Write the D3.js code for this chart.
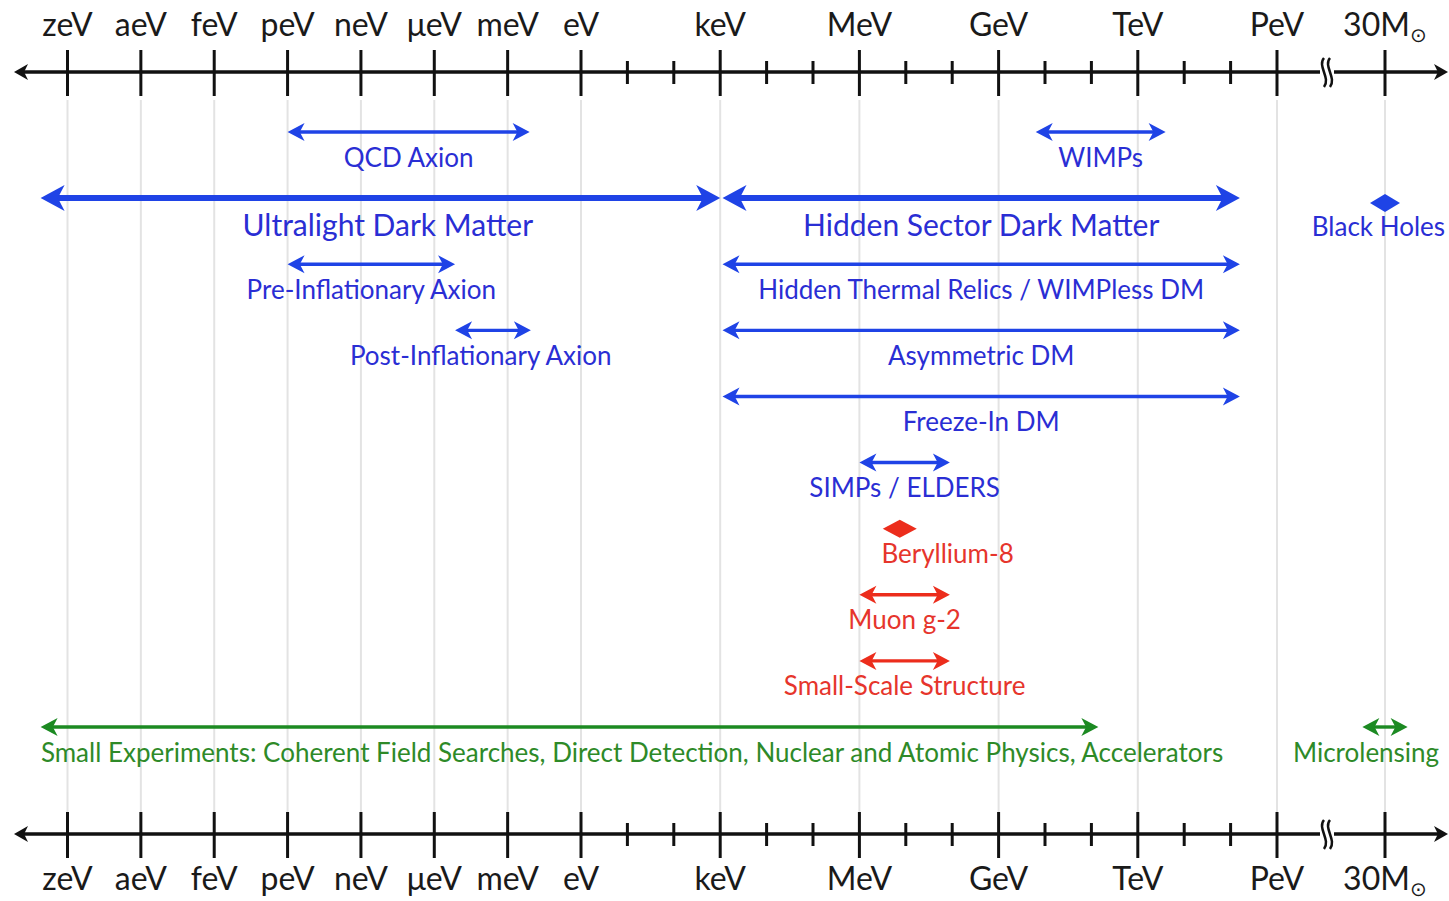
<!DOCTYPE html>
<html>
<head>
<meta charset="utf-8">
<script src="https://cdnjs.cloudflare.com/ajax/libs/d3/7.8.5/d3.min.js"></script>
<style>
body{margin:0;background:#fff}
svg{display:block}
text{font-family:Lato,"Open Sans",sans-serif}
</style>
</head>
<body>
<div id="chart"></div>
<script>
(function(){

	// energies as log10(E / eV); the last stop (30 solar masses) sits past an axis break
	var tickNames = ["zeV","aeV","feV","peV","neV","μeV","meV","eV","keV","MeV","GeV","TeV","PeV","30M"];
	var tickVals  = [-21,-18,-15,-12,-9,-6,-3,0,3,6,9,12,15,67.5];
	var minorVals = [1,2,4,5,7,8,10,11,13,14];

	var bandNames = ["QCD Axion","WIMPs","Ultralight Dark Matter","Hidden Sector Dark Matter","Black Holes",
		"Pre-Inflationary Axion","Hidden Thermal Relics / WIMPless DM","Post-Inflationary Axion","Asymmetric DM",
		"Freeze-In DM","SIMPs / ELDERS","Beryllium-8","Muon g-2","Small-Scale Structure",
		"Small Experiments: Coherent Field Searches, Direct Detection, Nuclear and Atomic Physics, Accelerators",
		"Microlensing"];
	var bandLo  = [-12, 9.8, -22.1, 3.05, 67.5, -12, 3.05, -5.15, 3.05, 3.05, 6, 6.87, 6, 6, -22.1, 56.5];
	var bandHi  = [-2.1, 12.6, 3, 14.2, 67.5, -5.15, 14.2, -2.05, 14.2, 14.2, 7.95, 6.87, 7.95, 7.95, 11.15, 78.5];
	var bandRow = [0, 0, 1, 1, 1, 2, 2, 3, 3, 4, 5, 6, 7, 8, 9, 9];
	var bandKind = ["theory","theory","theory","theory","theory","theory","theory","theory","theory","theory",
		"theory","anomaly","anomaly","anomaly","probe","probe"];
	// where the label is centred, when it is not the middle of the range
	var labelAt = {"Beryllium-8": 7.9, "Black Holes": 64.3, "Post-Inflationary Axion": -4.1,
		"Small Experiments: Coherent Field Searches, Direct Detection, Nuclear and Atomic Physics, Accelerators": 1.1,
		"Microlensing": 58.3, "Ultralight Dark Matter": -7.9};
	var majorBands = ["Ultralight Dark Matter","Hidden Sector Dark Matter","Black Holes"];

	var width = 1449, height = 901;
	var svg = d3.select("div#chart").append("svg")
		.attr("width", width).attr("height", height);

	var x = d3.scaleLinear().domain([-21, 0, 15, 67.5]).range([67.5, 581, 1277, 1385]);
	var y = d3.scalePoint().domain(d3.range(10)).range([132, 727]);
	var lineColor = d3.scaleOrdinal().domain(["theory","anomaly","probe"]).range(["#1f43e6","#ec2d1c","#1c8a22"]);
	var textColor = d3.scaleOrdinal().domain(["theory","anomaly","probe"]).range(["#2a2ed4","#e6352c","#2e8a28"]);

	var bands = bandNames.map(function(n, i){
		return {name: n, lo: bandLo[i], hi: bandHi[i], row: bandRow[i], kind: bandKind[i],
			major: majorBands.indexOf(n) >= 0};
	});

	// faint grid at the major ticks
	svg.append("g").selectAll("line").data(tickVals).enter().append("line")
		.attr("x1", d => x(d)).attr("x2", d => x(d))
		.attr("y1", 100).attr("y2", 812)
		.attr("stroke", "#e3e3e3").attr("stroke-width", 2);

	function head(px, py, dir, len, w){
		return "M" + px + "," + py +
			"L" + (px - dir*len) + "," + (py - w) +
			"L" + (px - dir*len*0.72) + "," + py +
			"L" + (px - dir*len) + "," + (py + w) + "Z";
	}

	function drawAxis(ay, labelY){
		var g = svg.append("g");
		g.append("line").attr("x1", 20).attr("x2", 1442).attr("y1", ay).attr("y2", ay)
			.attr("stroke", "#111").attr("stroke-width", 3.5);
		g.append("path").attr("d", head(14, ay, -1, 14, 8)).attr("fill", "#111");
		g.append("path").attr("d", head(1448, ay, 1, 14, 8)).attr("fill", "#111");
		g.selectAll(".major").data(tickVals).enter().append("line")
			.attr("x1", d => x(d)).attr("x2", d => x(d))
			.attr("y1", ay - 22).attr("y2", ay + 24)
			.attr("stroke", "#111").attr("stroke-width", 3);
		g.selectAll(".minor").data(minorVals).enter().append("line")
			.attr("x1", d => x(d)).attr("x2", d => x(d))
			.attr("y1", ay - 11).attr("y2", ay + 12)
			.attr("stroke", "#111").attr("stroke-width", 3);
		// axis break
		var bx = (x(15) + x(67.5))/2 - 4;
		g.append("rect").attr("x", bx - 7).attr("y", ay - 4).attr("width", 14).attr("height", 8).attr("fill", "#fff");
		[-3, 3].forEach(function(o){
			g.append("path")
				.attr("d", "M" + (bx+o) + "," + (ay-14) + "C" + (bx+o-7) + "," + (ay-6) + " " + (bx+o+7) + "," + (ay+6) + " " + (bx+o) + "," + (ay+15))
				.attr("fill", "none").attr("stroke", "#111").attr("stroke-width", 2.5);
		});
		var t = g.selectAll(".lab").data(tickVals).enter().append("text")
			.attr("x", d => x(d)).attr("y", labelY)
			.attr("text-anchor", "middle")
			.attr("font-size", 32).attr("fill", "#1a1a1a")
			.text((d, i) => tickNames[i]);
		t.filter(d => d == 67.5).append("tspan")
			.attr("font-size", 20).attr("dy", 6).text("⊙");
	}
	drawAxis(72, 36);
	drawAxis(834, 890);

	// ranges
	var g = svg.append("g");
	bands.forEach(function(b){
		var yy = y(b.row);
		var c = lineColor(b.kind);
		var sw = b.major ? 6 : 3.4, L = b.major ? 24 : 17, W = b.major ? 13 : 9;
		if (b.lo == b.hi) {
			var cx = x(b.lo), dy = b.major ? 5 : 0, hw = b.major ? 15 : 17;
			g.append("path")
				.attr("d", "M" + (cx - hw) + "," + (yy+dy) + "L" + cx + "," + (yy+dy-9) + "L" + (cx + hw) + "," + (yy+dy) + "L" + cx + "," + (yy+dy+9) + "Z")
				.attr("fill", c);
		} else {
			var x1 = x(b.lo), x2 = x(b.hi);
			g.append("line").attr("x1", x1 + L*0.6).attr("x2", x2 - L*0.6)
				.attr("y1", yy).attr("y2", yy)
				.attr("stroke", c).attr("stroke-width", sw);
			g.append("path").attr("d", head(x1, yy, -1, L, W)).attr("fill", c);
			g.append("path").attr("d", head(x2, yy, 1, L, W)).attr("fill", c);
		}
		var big = b.major && b.lo != b.hi;
		var lx = labelAt[b.name] !== undefined ? x(labelAt[b.name]) : (x(b.lo) + x(b.hi))/2;
		g.append("text")
			.attr("x", lx).attr("y", yy + (b.major ? 38 : 34.5))
			.attr("text-anchor", "middle")
			.attr("font-size", big ? 30 : 26)
			.attr("fill", textColor(b.kind))
			.text(b.name);
	});

})();
</script>
</body>
</html>
